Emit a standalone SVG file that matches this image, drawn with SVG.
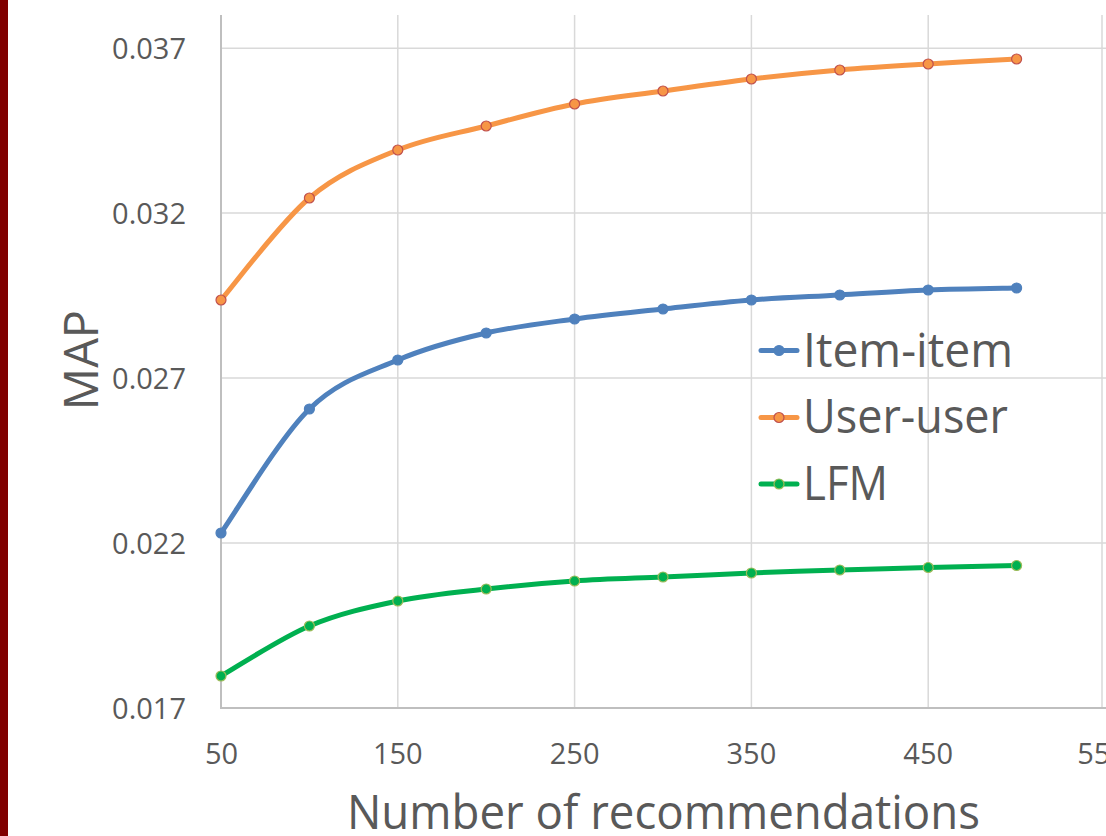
<svg xmlns="http://www.w3.org/2000/svg" width="1106" height="836" viewBox="0 0 1106 836">
  <defs>
    <style>
      .grid { stroke: #d9d9d9; stroke-width: 1.5; fill: none; }
      .axis { stroke: #bfbfbf; stroke-width: 2; fill: none; }
      .tick { font-family: "Open Sans", "Liberation Sans", sans-serif; font-size: 29px; fill: #595959; }
      .title { font-family: "Open Sans", "Liberation Sans", sans-serif; font-size: 47px; fill: #595959; }
      .legend { font-family: "Open Sans", "Liberation Sans", sans-serif; font-size: 47px; fill: #595959; }
      .line { fill: none; stroke-width: 5; stroke-linecap: round; stroke-linejoin: round; }
      .item { stroke: #4f81bd; }
      .user { stroke: #f79646; }
      .lfm { stroke: #00b050; }
      .m-item { fill: #4f81bd; stroke: #4f81bd; stroke-width: 1.2; }
      .m-user { fill: #f79646; stroke: #c0504d; stroke-width: 1.2; }
      .m-lfm { fill: #00b050; stroke: #9bbb59; stroke-width: 1.2; }
    </style>
  </defs>

  <rect x="0" y="0" width="1106" height="836" fill="#ffffff"/>
  <!-- slide accent bar -->
  <rect x="0" y="0" width="8" height="836" fill="#800000"/>

  <!-- gridlines -->
  <g id="gridlines">
    <line class="grid" x1="221" y1="48.3" x2="1106" y2="48.3"/>
    <line class="grid" x1="221" y1="213" x2="1106" y2="213"/>
    <line class="grid" x1="221" y1="378" x2="1106" y2="378"/>
    <line class="grid" x1="221" y1="543" x2="1106" y2="543"/>
    <line class="grid" x1="397.8" y1="15" x2="397.8" y2="708"/>
    <line class="grid" x1="574.6" y1="15" x2="574.6" y2="708"/>
    <line class="grid" x1="751.4" y1="15" x2="751.4" y2="708"/>
    <line class="grid" x1="928.2" y1="15" x2="928.2" y2="708"/>
    <line class="grid" x1="1102" y1="15" x2="1102" y2="708"/>
  </g>

  <!-- axes -->
  <g id="axes">
    <line class="axis" x1="221" y1="15" x2="221" y2="709"/>
    <line class="axis" x1="220" y1="708" x2="1106" y2="708"/>
  </g>

  <!-- y tick labels -->
  <g id="y-labels" class="tick" text-anchor="end">
    <text x="186" y="59">0.037</text>
    <text x="186" y="224">0.032</text>
    <text x="186" y="389">0.027</text>
    <text x="186" y="554">0.022</text>
    <text x="186" y="719">0.017</text>
  </g>

  <!-- x tick labels -->
  <g id="x-labels" class="tick" text-anchor="middle">
    <text x="221.5" y="764">50</text>
    <text x="397.8" y="764">150</text>
    <text x="574.6" y="764">250</text>
    <text x="751.4" y="764">350</text>
    <text x="928.2" y="764">450</text>
    <text x="1102" y="764">550</text>
  </g>

  <!-- axis titles -->
  <g id="axis-titles">
    <text class="title" transform="translate(98,360) rotate(-90)" text-anchor="middle">MAP</text>
    <text class="title" x="347" y="829" textLength="633" lengthAdjust="spacingAndGlyphs">Number of recommendations</text>
  </g>

  <!-- data series -->
  <g id="connectors">
    <path class="line user" d="M221,300 C235.7,283 279.9,223 309.4,198 C338.9,173 368.3,162 397.8,150 C427.3,138 456.7,133.7 486.2,126 C515.7,118.3 545.1,109.8 574.6,104 C604.1,98.2 633.5,95.2 663,91 C692.5,86.8 721.9,82.5 751.4,79 C780.9,75.5 810.3,72.5 839.8,70 C869.3,67.5 898.7,65.8 928.2,64 C957.7,62.2 1001.9,59.8 1016.6,59"/>
    <path class="line item" d="M221,533 C235.7,512.3 279.9,437.8 309.4,409 C338.9,380.2 368.3,372.7 397.8,360 C427.3,347.3 456.7,339.8 486.2,333 C515.7,326.2 545.1,323 574.6,319 C604.1,315 633.5,312.2 663,309 C692.5,305.8 721.9,302.3 751.4,300 C780.9,297.7 810.3,296.7 839.8,295 C869.3,293.3 898.7,291.2 928.2,290 C957.7,288.8 1001.9,288.3 1016.6,288"/>
    <path class="line lfm" d="M221,676 C235.7,667.7 279.9,638.5 309.4,626 C338.9,613.5 368.3,607.2 397.8,601 C427.3,594.8 456.7,592.3 486.2,589 C515.7,585.7 545.1,583 574.6,581 C604.1,579 633.5,578.3 663,577 C692.5,575.7 721.9,574.2 751.4,573 C780.9,571.8 810.3,570.9 839.8,570 C869.3,569.1 898.7,568.25 928.2,567.5 C957.7,566.75 1001.9,565.8 1016.6,565.5"/>
  </g>

  <g id="markers-user" class="m-user">
    <circle cx="221" cy="300" r="5"/>
    <circle cx="309.4" cy="198" r="5"/>
    <circle cx="397.8" cy="150" r="5"/>
    <circle cx="486.2" cy="126" r="5"/>
    <circle cx="574.6" cy="104" r="5"/>
    <circle cx="663" cy="91" r="5"/>
    <circle cx="751.4" cy="79" r="5"/>
    <circle cx="839.8" cy="70" r="5"/>
    <circle cx="928.2" cy="64" r="5"/>
    <circle cx="1016.6" cy="59" r="5"/>
  </g>
  <g id="markers-item" class="m-item">
    <circle cx="221" cy="533" r="5"/>
    <circle cx="309.4" cy="409" r="5"/>
    <circle cx="397.8" cy="360" r="5"/>
    <circle cx="486.2" cy="333" r="5"/>
    <circle cx="574.6" cy="319" r="5"/>
    <circle cx="663" cy="309" r="5"/>
    <circle cx="751.4" cy="300" r="5"/>
    <circle cx="839.8" cy="295" r="5"/>
    <circle cx="928.2" cy="290" r="5"/>
    <circle cx="1016.6" cy="288" r="5"/>
  </g>
  <g id="markers-lfm" class="m-lfm">
    <circle cx="221" cy="676" r="5"/>
    <circle cx="309.4" cy="626" r="5"/>
    <circle cx="397.8" cy="601" r="5"/>
    <circle cx="486.2" cy="589" r="5"/>
    <circle cx="574.6" cy="581" r="5"/>
    <circle cx="663" cy="577" r="5"/>
    <circle cx="751.4" cy="573" r="5"/>
    <circle cx="839.8" cy="570" r="5"/>
    <circle cx="928.2" cy="567.5" r="5"/>
    <circle cx="1016.6" cy="565.5" r="5"/>
  </g>

  <!-- legend -->
  <g id="legend-item">
    <line class="line item" x1="761" y1="350.5" x2="797" y2="350.5"/>
    <circle class="m-item" cx="779" cy="350.5" r="5"/>
    <text class="legend" x="803" y="367" textLength="210" lengthAdjust="spacingAndGlyphs">Item-item</text>
  </g>
  <g id="legend-user">
    <line class="line user" x1="761" y1="417.5" x2="797" y2="417.5"/>
    <circle class="m-user" cx="779" cy="417.5" r="5"/>
    <text class="legend" x="803" y="433" textLength="205" lengthAdjust="spacingAndGlyphs">User-user</text>
  </g>
  <g id="legend-lfm">
    <line class="line lfm" x1="761" y1="484" x2="797" y2="484"/>
    <circle class="m-lfm" cx="779" cy="484" r="5"/>
    <text class="legend" x="803" y="499.5" textLength="85" lengthAdjust="spacingAndGlyphs">LFM</text>
  </g>
</svg>
